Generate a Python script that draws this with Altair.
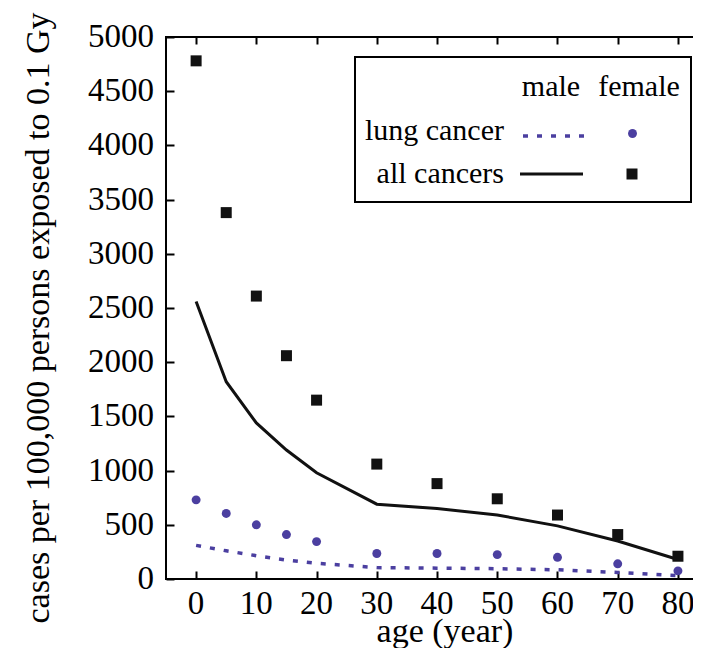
import altair as alt
import pandas as pd

# ---- data ----
ages = [0, 5, 10, 15, 20, 30, 40, 50, 60, 70, 80]
female_all = [4780, 3380, 2610, 2060, 1650, 1060, 880, 740, 590, 410, 210]
male_all = [2560, 1820, 1440, 1190, 980, 690, 650, 590, 490, 350, 180]
female_lung = [730, 605, 500, 410, 345, 235, 235, 225, 200, 140, 75]
male_lung = [310, 260, 215, 175, 145, 105, 100, 95, 85, 60, 30]

x_ticks = [0, 10, 20, 30, 40, 50, 60, 70, 80]
y_ticks = [0, 500, 1000, 1500, 2000, 2500, 3000, 3500, 4000, 4500, 5000]
legend_header = ["male", "female"]
legend_rows = ["lung cancer", "all cancers"]
x_title = "age (year)"
y_title = "cases per 100,000 persons exposed to 0.1 Gy"

df = pd.DataFrame({
    "age": ages,
    "female_all": female_all,
    "male_all": male_all,
    "female_lung": female_lung,
    "male_lung": male_lung,
})
xt = pd.DataFrame({"v": x_ticks})
yt = pd.DataFrame({"v": y_ticks})
one = pd.DataFrame({"k": [0]})

FONT = "Times New Roman"
PURPLE = "#4b3fa0"
BLACK = "#111111"
W, H = 527, 542

xs = alt.Scale(domain=[-5, 82.5], nice=False, zero=False)
ys = alt.Scale(domain=[0, 5000], nice=False, zero=False)

tick_style = dict(tickColor="black", tickWidth=2, grid=False, domain=False,
                  labels=False, title=None)

x_main = alt.X("age:Q", scale=xs, axis=alt.Axis(
    orient="bottom", values=x_ticks, offset=-8, tickSize=8, **tick_style))
y_main = alt.Y("female_all:Q", scale=ys, axis=alt.Axis(
    orient="left", values=y_ticks, offset=-8, tickSize=8, **tick_style))

x_plain = alt.X("age:Q", scale=xs, axis=None)

female_sq = alt.Chart(df).mark_square(size=121, color=BLACK, opacity=1).encode(
    x=x_main, y=y_main)

male_all_line = alt.Chart(df).mark_line(color=BLACK, strokeWidth=3).encode(
    x=x_plain, y=alt.Y("male_all:Q", scale=ys, axis=None))

female_lung_pts = alt.Chart(df).mark_circle(size=80, color=PURPLE, opacity=1).encode(
    x=x_plain, y=alt.Y("female_lung:Q", scale=ys, axis=None))

male_lung_line = alt.Chart(df).mark_line(color=PURPLE, strokeWidth=3.5, strokeDash=[5, 9]).encode(
    x=x_plain, y=alt.Y("male_lung:Q", scale=ys, axis=None))

# mirrored top inward ticks
mirror = alt.Chart(df).mark_point(opacity=0).encode(
    x=alt.X("age:Q", scale=xs, axis=alt.Axis(orient="top", values=x_ticks, offset=-7,
                                             tickSize=7, **tick_style)),
    y=alt.Y("female_all:Q", scale=ys, axis=None))

# tick labels placed through the scales
x_labels = alt.Chart(xt).mark_text(font=FONT, fontSize=33, color="black",
                                   align="center", baseline="alphabetic").encode(
    x=alt.X("v:Q", scale=xs, axis=None), y=alt.value(H + 35),
    text=alt.Text("v:Q", format="d"))
y_labels = alt.Chart(yt).mark_text(font=FONT, fontSize=33, color="black",
                                   align="right", baseline="middle").encode(
    x=alt.value(-12), y=alt.Y("v:Q", scale=ys, axis=None),
    text=alt.Text("v:Q", format="d"))

# axis titles
x_title_mark = alt.Chart(one).mark_text(text=x_title, font=FONT, fontSize=34, color="black",
                                        align="center", baseline="alphabetic").encode(
    x=alt.value(279), y=alt.value(H + 63))
y_title_mark = alt.Chart(one).mark_text(text=y_title, font=FONT, fontSize=34, color="black",
                                        align="center", baseline="middle", angle=270).encode(
    x=alt.value(-127), y=alt.value(281))

# frame on left, top and bottom (right edge lies outside the picture)
frame_left = alt.Chart(one).mark_rule(color="black", strokeWidth=2).encode(
    x=alt.value(0), y=alt.value(-1), y2=alt.value(H + 1))
frame_top = alt.Chart(one).mark_rule(color="black", strokeWidth=2).encode(
    x=alt.value(-1), x2=alt.value(W), y=alt.value(0))
frame_bottom = alt.Chart(one).mark_rule(color="black", strokeWidth=2).encode(
    x=alt.value(-1), x2=alt.value(W), y=alt.value(H))

# ---- custom legend box ----
box = alt.Chart(one).mark_rect(fill="white", stroke="black", strokeWidth=2).encode(
    x=alt.value(189), x2=alt.value(525), y=alt.value(20), y2=alt.value(165))

def txt(s, x, y, align):
    return alt.Chart(one).mark_text(text=s, font=FONT, fontSize=30, color="black",
                                    align=align, baseline="alphabetic").encode(
        x=alt.value(x), y=alt.value(y))

t_male = txt(legend_header[0], 385, 59, "center")
t_female = txt(legend_header[1], 473, 59, "center")
t_lung = txt(legend_rows[0], 338, 103, "right")
t_all = txt(legend_rows[1], 338, 146, "right")

leg_dash = alt.Chart(one).mark_rule(color=PURPLE, strokeWidth=3.5, strokeDash=[5, 9]).encode(
    x=alt.value(357), x2=alt.value(421), y=alt.value(99))
leg_solid = alt.Chart(one).mark_rule(color=BLACK, strokeWidth=3).encode(
    x=alt.value(354), x2=alt.value(417), y=alt.value(137))
leg_circle = alt.Chart(one).mark_circle(size=80, color=PURPLE, opacity=1).encode(
    x=alt.value(466.5), y=alt.value(96.5))
leg_square = alt.Chart(one).mark_square(size=121, color=BLACK, opacity=1).encode(
    x=alt.value(466), y=alt.value(137))

chart = alt.layer(
    mirror, frame_left, frame_top, frame_bottom,
    x_labels, y_labels, x_title_mark, y_title_mark,
    male_lung_line, male_all_line, female_lung_pts, female_sq,
    box, t_male, t_female, t_lung, t_all, leg_dash, leg_solid, leg_circle, leg_square,
).resolve_axis(
    x="independent", y="independent"
).properties(
    width=W, height=H,
    autosize=alt.AutoSizeParams(type="none"),
    padding={"left": 158, "top": 29, "right": 0, "bottom": 69},
    background="white",
).configure_view(
    strokeWidth=0, stroke="transparent"
)

chart.save("out.html", embed_options={"renderer": "svg", "actions": False})
